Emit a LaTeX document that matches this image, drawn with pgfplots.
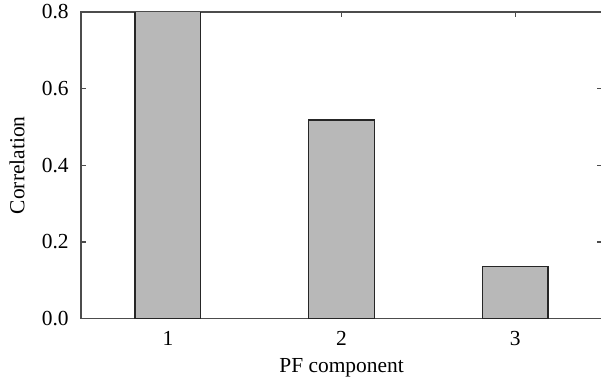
\documentclass[border=0pt]{standalone}
\usepackage{pgfplots}
\pgfplotsset{compat=1.18}
\usepackage{fontspec}
\setmainfont{Liberation Serif}
\begin{document}
\fontsize{10.7pt}{12.8pt}\selectfont
\begin{tikzpicture}
\begin{axis}[
  scale only axis,
  width=260pt, height=153pt,
  xmin=0.5, xmax=3.5,
  ymin=0, ymax=0.8,
  xtick={1,2,3},
  xticklabels={1,2,3},
  ytick={0,0.2,0.4,0.6,0.8},
  yticklabels={0.0,0.2,0.4,0.6,0.8},
  tick align=inside,
  major tick length=2.5pt,
  axis line style={draw=black!70, line width=0.65pt},
  tick style={draw=black!70, line width=0.65pt},
  xlabel={PF component},
  ylabel={Correlation},
  ylabel style={font=\fontsize{10.7pt}{12.8pt}\selectfont, at={(axis description cs:0,0.5)}, anchor=center, yshift=32pt},
  xlabel style={font=\fontsize{10.7pt}{12.8pt}\selectfont, at={(axis description cs:0.5,0)}, anchor=center, yshift=-24.5pt},
  ticklabel style={font=\fontsize{10.7pt}{12.8pt}\selectfont},
  yticklabel style={xshift=-2.5pt},
  xticklabel style={yshift=-2.5pt},
  clip=true,
]
\addplot[ybar, bar width=0.378, fill=black!28, draw=black!85, line width=0.7pt] coordinates {(1,0.85) (2,0.518) (3,0.135)};
\end{axis}
\pgfresetboundingbox
\path (current axis.south west) ++(-40.5pt,-31pt) rectangle ([yshift=6pt,xshift=-0.5pt]current axis.north east);
\end{tikzpicture}
\end{document}
